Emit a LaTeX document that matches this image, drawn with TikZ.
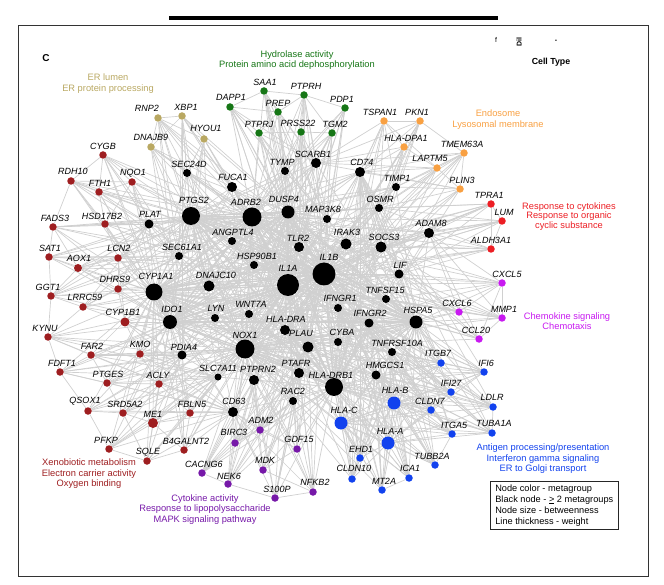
\documentclass[tikz,border=0pt]{standalone}
\usepackage{fontspec}
\setmainfont{Liberation Sans}
\usetikzlibrary{backgrounds}

\definecolor{cTan}{RGB}{185,168,98}
\definecolor{cGreen}{RGB}{22,118,22}
\definecolor{cOrange}{RGB}{248,160,66}
\definecolor{cRed}{RGB}{236,30,36}
\definecolor{cMag}{RGB}{200,26,240}
\definecolor{cBlue}{RGB}{18,66,238}
\definecolor{cPurple}{RGB}{118,24,168}
\definecolor{cDark}{RGB}{158,30,32}
\definecolor{cEdge}{RGB}{208,208,208}

\tikzset{
  gene/.style={circle, inner sep=0pt, minimum size=#1pt},
  glab/.style={inner sep=0pt, font=\fontsize{9}{10}\selectfont\itshape},
  ttl/.style={inner sep=0pt, align=center, font=\fontsize{9.3}{10.5}\selectfont},
  edge/.style={draw=cEdge, line width=0.7pt},
  hubedge/.style={draw=cEdge, line width=1.3pt},
}

\def\hubs{IL1A,IL1B,PTGS2,ADRB2,CYP1A1,NOX1,HLA-DRB1,IDO1,DUSP4,HSPA5}
\def\smallblack{SEC24D,TYMP,SCARB1,FUCA1,CD74,TIMP1,OSMR,MAP3K8,PLAT,ADAM8,ANGPTL4,IRAK3,SOCS3,TLR2,SEC61A1,HSP90B1,LIF,DNAJC10,TNFSF15,IFNGR1,LYN,WNT7A,IFNGR2,HLA-DRA,CYBA,PLAU,TNFRSF10A,PDIA4,HMGCS1,PTAFR,SLC7A11,PTPRN2,RAC2,CD63}

\begin{document}
\begin{tikzpicture}[x=1pt, y=-1pt]
  \useasboundingbox (0,0) rectangle (664,585);

  % frame and header
  \draw[line width=3.3pt] (169,18) -- (498,18);
  \draw[line width=0.9pt, draw=black!80] (18,25) rectangle (648,576);
  \node[font=\bfseries\fontsize{10}{12}\selectfont, inner sep=0pt] (panel) at (46,58) {C};
  \node[font=\fontsize{7}{7}\selectfont, inner sep=0pt] (hdrA) at (496,40) {f};
  \node[font=\bfseries\fontsize{7}{7}\selectfont, inner sep=0pt, rotate=90] (hdrB) at (519,42) {Dil};
  \node[font=\bfseries\fontsize{7}{7}\selectfont, inner sep=0pt] (hdrC) at (556,41) {-};
  \node[font=\bfseries\fontsize{8.8}{10}\selectfont, inner sep=0pt] (celltype) at (551,62) {Cell Type};

  % black nodes (>= 2 metagroups)
  \foreach \n/\x/\y/\lx/\ly/\s in {SEC24D/187/173/189/164/8, TYMP/285/171/282/162/8,
      SCARB1/316/163/313/154/10, FUCA1/232/187/233/177/10, CD74/360/172/362/162/10,
      TIMP1/396/187/397/178/8, OSMR/379/208/380/199/8, PTGS2/191/216/194/200/18,
      ADRB2/252/217/246/202/19, DUSP4/288/212/284/199/13, MAP3K8/327/219/323/209/8,
      PLAT/149/224/150/214/9, ADAM8/429/233/431/223/10, ANGPTL4/232/241/233/232/8,
      IRAK3/346/244/347/232/11, SOCS3/381/247/384/237/11, TLR2/299/247/298/238/10,
      SEC61A1/179/256/182/247/8, HSP90B1/254/265/257/256/8, IL1B/324/274/329/257/23,
      LIF/399/274/400/265/9, IL1A/288/285/288/268/22, DNAJC10/209/286/216/275/11,
      CYP1A1/154/292/156/276/17, TNFSF15/386/299/385/290/8, IFNGR1/338/308/340/298/8,
      LYN/215/318/216/308/8, WNT7A/249/314/251/304/8, IDO1/170/322/172/309/14,
      IFNGR2/369/323/370/313/9, HSPA5/416/322/418/310/13, HLA-DRA/285/330/286/319/10,
      CYBA/338/342/342/332/8, PLAU/308/347/301/333/11, NOX1/245/349/245/335/19,
      TNFRSF10A/392/352/397/343/8, PDIA4/182/355/184/347/9, HMGCS1/376/375/385/365/9,
      PTAFR/299/373/296/363/10, SLC7A11/218/377/218/368/7, PTPRN2/254/380/258/369/10,
      HLA-DRB1/334/387/331/375/18, RAC2/293/401/293/391/8, CD63/233/412/234/401/10}
  {
    \node[gene=\s, fill=black] (\n) at (\x,\y) {};
    \node[glab] (l\n) at (\lx,\ly) {\n};
  }

  % ER lumen
  \foreach \n/\x/\y/\lx/\ly in {RNP2/158/118/147/108, DNAJB9/151/147/151/137,
      XBP1/182/116/186/107, HYOU1/204/139/206/128}
  {
    \node[gene=7.5, fill=cTan] (\n) at (\x,\y) {};
    \node[glab] (l\n) at (\lx,\ly) {\n};
  }

  % hydrolase
  \foreach \n/\x/\y/\lx/\ly in {SAA1/264/91/265/82, PTPRH/304/95/306/86,
      DAPP1/230/107/231/97, PREP/278/112/278/103, PDP1/345/108/342/99,
      PTPRJ/259/133/259/124, PRSS22/301/132/298/123, TGM2/332/133/335/124}
  {
    \node[gene=7.5, fill=cGreen] (\n) at (\x,\y) {};
    \node[glab] (l\n) at (\lx,\ly) {\n};
  }

  % endosome
  \foreach \n/\x/\y/\lx/\ly in {TSPAN1/384/121/380/112, PKN1/420/121/417/112,
      HLA-DPA1/404/147/406/138, TMEM63A/464/153/462/144,
      LAPTM5/437/168/430/158, PLIN3/460/189/462/180}
  {
    \node[gene=7.5, fill=cOrange] (\n) at (\x,\y) {};
    \node[glab] (l\n) at (\lx,\ly) {\n};
  }

  % cytokine response
  \foreach \n/\x/\y/\lx/\ly in {TPRA1/491/204/489/195, LUM/502/221/504/212,
      ALDH3A1/491/249/491/240}
  {
    \node[gene=7.5, fill=cRed] (\n) at (\x,\y) {};
    \node[glab] (l\n) at (\lx,\ly) {\n};
  }

  % chemokine
  \foreach \n/\x/\y/\lx/\ly in {CXCL5/502/283/507/274, CXCL6/459/312/457/303,
      MMP1/502/318/504/309, CCL20/479/339/476/330}
  {
    \node[gene=7.5, fill=cMag] (\n) at (\x,\y) {};
    \node[glab] (l\n) at (\lx,\ly) {\n};
  }

  % antigen processing
  \foreach \n/\x/\y/\lx/\ly/\s in {ITGB7/441/363/438/353/7.5, IFI6/484/372/486/363/7.5,
      IFI27/451/392/451/383/7.5, HLA-B/394/403/395/390/13, CLDN7/431/410/430/401/7.5,
      LDLR/493/407/492/397/7.5, HLA-C/341/423/344/410/13, ITGA5/452/434/454/425/7.5,
      TUBA1A/492/433/494/423/7.5, HLA-A/388/443/390/431/13, EHD1/360/458/361/449/7.5,
      TUBB2A/435/465/432/456/7.5, CLDN10/352/479/354/468/7.5, ICA1/409/478/410/468/7.5,
      MT2A/382/490/384/481/7.5}
  {
    \node[gene=\s, fill=cBlue] (\n) at (\x,\y) {};
    \node[glab] (l\n) at (\lx,\ly) {\n};
  }

  % cytokine activity
  \foreach \n/\x/\y/\lx/\ly in {ADM2/260/430/261/420, BIRC3/235/443/234/432,
      GDF15/297/449/299/439, CACNG6/202/473/204/464, MDK/263/470/265/460,
      NEK6/228/484/229/476, S100P/275/498/277/489, NFKB2/313/492/315/482}
  {
    \node[gene=7.5, fill=cPurple] (\n) at (\x,\y) {};
    \node[glab] (l\n) at (\lx,\ly) {\n};
  }

  % xenobiotic metabolism
  \foreach \n/\x/\y/\lx/\ly/\s in {CYGB/103/155/103/146/7.5, RDH10/71/181/73/171/7.5,
      FTH1/99/192/100/183/7.5, NQO1/132/182/133/173/7.5, FADS3/53/227/55/218/7.5,
      HSD17B2/105/224/102/216/7.5, SAT1/49/257/50/248/7.5, AOX1/78/268/79/258/8,
      LCN2/118/258/119/248/7.5, DHRS9/118/289/115/279/7.5, GGT1/51/296/48/287/7.5,
      LRRC59/83/307/85/297/7.5, CYP1B1/125/322/123/312/9, KYNU/48/337/45/328/7.5,
      FAR2/91/355/92/346/7.5, KMO/140/354/140/344/7.5, FDFT1/60/372/62/363/7.5,
      PTGES/107/383/108/374/7.5, ACLY/159/384/158/375/7.5, FBLN5/190/413/192/404/7.5,
      QSOX1/88/411/85/401/7.5, SRD5A2/123/413/125/404/7.5, ME1/153/423/153/414/10,
      PFKP/109/449/106/440/7.5, SQLE/147/461/148/452/7.5, B4GALNT2/184/450/186/441/7.5}
  {
    \node[gene=\s, fill=cDark] (\n) at (\x,\y) {};
    \node[glab] (l\n) at (\lx,\ly) {\n};
  }

  % edges
  \begin{scope}[on background layer]
    \foreach \a [count=\i] in \hubs {
      \foreach \b [count=\j] in \hubs {
        \ifnum\j>\i \draw[hubedge] (\a) -- (\b); \fi
      }
    }
    \foreach \a in \hubs
      \foreach \b in \smallblack
        \draw[edge] (\a) -- (\b);

    \foreach \a in {RNP2,DNAJB9,XBP1,HYOU1}
      \foreach \b in {PTGS2,ADRB2,SEC24D,FUCA1,SEC61A1,DNAJC10,PDIA4,HSPA5,IL1A}
        \draw[edge] (\a) -- (\b);
    \foreach \a/\b in {RNP2/XBP1, XBP1/HYOU1, RNP2/HYOU1, DNAJB9/RNP2, XBP1/DNAJB9}
      \draw[edge] (\a) -- (\b);

    \foreach \a in {SAA1,PTPRH,DAPP1,PREP,PDP1,PTPRJ,PRSS22,TGM2}
      \foreach \b in {DUSP4,TYMP,SCARB1,IL1B,IL1A,ADRB2,TLR2,PLAU,MAP3K8}
        \draw[edge] (\a) -- (\b);
    \foreach \a/\b in {DAPP1/PREP, DAPP1/SAA1, SAA1/PREP, PREP/PTPRH, PTPRJ/PRSS22,
        PRSS22/TGM2, PTPRH/PDP1, PREP/PTPRJ, DAPP1/PTPRJ, PTPRH/TGM2, SAA1/PTPRH}
      \draw[edge] (\a) -- (\b);

    \foreach \a in {TSPAN1,PKN1,HLA-DPA1,TMEM63A,LAPTM5,PLIN3}
      \foreach \b in {CD74,TIMP1,SCARB1,HLA-DRB1,HLA-DRA,IL1B,IFNGR1,OSMR}
        \draw[edge] (\a) -- (\b);
    \foreach \a/\b in {TSPAN1/PKN1, TSPAN1/HLA-DPA1, PKN1/HLA-DPA1, PKN1/TMEM63A,
        HLA-DPA1/LAPTM5, LAPTM5/TMEM63A, TMEM63A/PLIN3, LAPTM5/PLIN3, TSPAN1/LAPTM5}
      \draw[edge] (\a) -- (\b);

    \foreach \a in {TPRA1,LUM,ALDH3A1}
      \foreach \b in {IL1B,IL1A,SOCS3,ADAM8,OSMR,LIF,IRAK3,CYP1A1,PTGS2}
        \draw[edge] (\a) -- (\b);
    \foreach \a/\b in {TPRA1/LUM, LUM/ALDH3A1, TPRA1/ALDH3A1}
      \draw[edge] (\a) -- (\b);

    \foreach \a in {CXCL5,CXCL6,MMP1,CCL20}
      \foreach \b in {IL1B,IL1A,LIF,HSPA5,ADAM8,TNFSF15,SOCS3,PTGS2,NOX1}
        \draw[edge] (\a) -- (\b);
    \foreach \a/\b in {CXCL5/CXCL6, CXCL5/MMP1, CXCL6/MMP1, CXCL6/CCL20,
        CCL20/MMP1, CXCL5/CCL20}
      \draw[edge] (\a) -- (\b);

    \foreach \a in {ITGB7,IFI6,IFI27,HLA-B,CLDN7,LDLR,HLA-C,ITGA5,TUBA1A,HLA-A,EHD1,TUBB2A,CLDN10,ICA1,MT2A}
      \foreach \b in {HLA-DRB1,HSPA5,IFNGR1,IFNGR2,HLA-DRA,HMGCS1,TNFRSF10A,IL1B,CD74,NOX1}
        \draw[edge] (\a) -- (\b);
    \foreach \a in {HLA-A,HLA-B,HLA-C}
      \foreach \b in {ITGB7,IFI6,IFI27,CLDN7,LDLR,ITGA5,TUBA1A,EHD1,TUBB2A,CLDN10,ICA1,MT2A}
        \draw[edge] (\a) -- (\b);
    \foreach \a/\b in {HLA-A/HLA-B, HLA-A/HLA-C, HLA-B/HLA-C, ITGB7/IFI6, IFI6/IFI27,
        IFI27/LDLR, LDLR/TUBA1A, ITGA5/TUBA1A, CLDN7/ITGA5, TUBB2A/ITGA5,
        EHD1/CLDN10, ICA1/MT2A, IFI27/CLDN7}
      \draw[edge] (\a) -- (\b);

    \foreach \a in {ADM2,BIRC3,GDF15,CACNG6,MDK,NEK6,S100P,NFKB2}
      \foreach \b in {IL1A,IL1B,NOX1,PTPRN2,RAC2,CD63,HLA-DRB1,PLAU,PTAFR}
        \draw[edge] (\a) -- (\b);
    \foreach \a/\b in {CACNG6/NEK6, NEK6/S100P, S100P/NFKB2, BIRC3/ADM2, ADM2/GDF15,
        MDK/GDF15, BIRC3/NEK6, MDK/NFKB2, GDF15/NFKB2, BIRC3/CACNG6}
      \draw[edge] (\a) -- (\b);

    \foreach \a in {CYGB,RDH10,FTH1,NQO1,FADS3,HSD17B2,SAT1,AOX1,LCN2,DHRS9,GGT1,LRRC59}
      \foreach \b in {PTGS2,PLAT,CYP1A1,SEC61A1,ADRB2,IL1B,IDO1}
        \draw[edge] (\a) -- (\b);
    \foreach \a in {CYP1B1,KYNU,FAR2,KMO,FDFT1,PTGES,ACLY,FBLN5,QSOX1,SRD5A2,ME1,PFKP,SQLE,B4GALNT2}
      \foreach \b in {CYP1A1,IDO1,NOX1,PDIA4,CD63,IL1A,SLC7A11}
        \draw[edge] (\a) -- (\b);
    \foreach \a/\b in {CYGB/RDH10, CYGB/NQO1, CYGB/FTH1, RDH10/FTH1, RDH10/NQO1,
        FTH1/NQO1, RDH10/FADS3, RDH10/HSD17B2, FTH1/HSD17B2, NQO1/HSD17B2,
        FADS3/SAT1, FADS3/AOX1, FADS3/HSD17B2, SAT1/AOX1, SAT1/GGT1, SAT1/LCN2,
        AOX1/LCN2, AOX1/GGT1, AOX1/DHRS9, LCN2/DHRS9, GGT1/LRRC59, GGT1/KYNU,
        LRRC59/DHRS9, LRRC59/CYP1B1, KYNU/FDFT1, KYNU/FAR2, FAR2/FDFT1, FAR2/KMO,
        FAR2/PTGES, FDFT1/PTGES, FDFT1/QSOX1, PTGES/ACLY, PTGES/SRD5A2,
        QSOX1/SRD5A2, QSOX1/PFKP, SRD5A2/ME1, ME1/SQLE, PFKP/SQLE, SQLE/B4GALNT2,
        ME1/FBLN5, ACLY/ME1, KMO/CYP1B1, CYP1B1/DHRS9, ACLY/FBLN5, B4GALNT2/FBLN5,
        ME1/B4GALNT2, SRD5A2/SQLE, PFKP/ME1, KMO/ACLY, LCN2/CYP1B1, HSD17B2/LCN2,
        KYNU/LRRC59}
      \draw[edge] (\a) -- (\b);
  \end{scope}

  % group titles
  \node[ttl, text=cTan] (tER) at (108,83.5) {ER lumen\\ER protein processing};
  \node[ttl, text=cGreen] (tHyd) at (297,60) {Hydrolase activity\\Protein amino acid dephosphorylation};
  \node[ttl, text=cOrange] (tEndo) at (498,119.5) {Endosome\\Lysosomal membrane};
  \node[ttl, text=cRed, font=\fontsize{9.3}{9.7}\selectfont] (tResp) at (569,216.5) {Response to cytokines\\Response to organic\\cyclic substance};
  \node[ttl, text=cMag] (tChem) at (567,321) {Chemokine signaling\\Chemotaxis};
  \node[ttl, text=cBlue] (tAnt) at (543,459) {Antigen processing/presentation\\Interferon gamma signaling\\ER to Golgi transport};
  \node[ttl, text=cPurple] (tCyt) at (205,509.5) {Cytokine activity\\Response to lipopolysaccharide\\MAPK signaling pathway};
  \node[ttl, text=cDark] (tXen) at (89,474) {Xenobiotic metabolism\\Electron carrier activity\\Oxygen binding};

  % legend
  \node[draw=black!85, line width=0.7pt, anchor=north west, align=left,
        inner xsep=5pt, inner ysep=3pt, font=\fontsize{9.2}{11}\selectfont] (legend) at (490,481)
       {Node color - metagroup\\Black node - \underline{>} 2 metagroups\\Node size - betweenness\\Line thickness - weight};
\end{tikzpicture}
\end{document}
